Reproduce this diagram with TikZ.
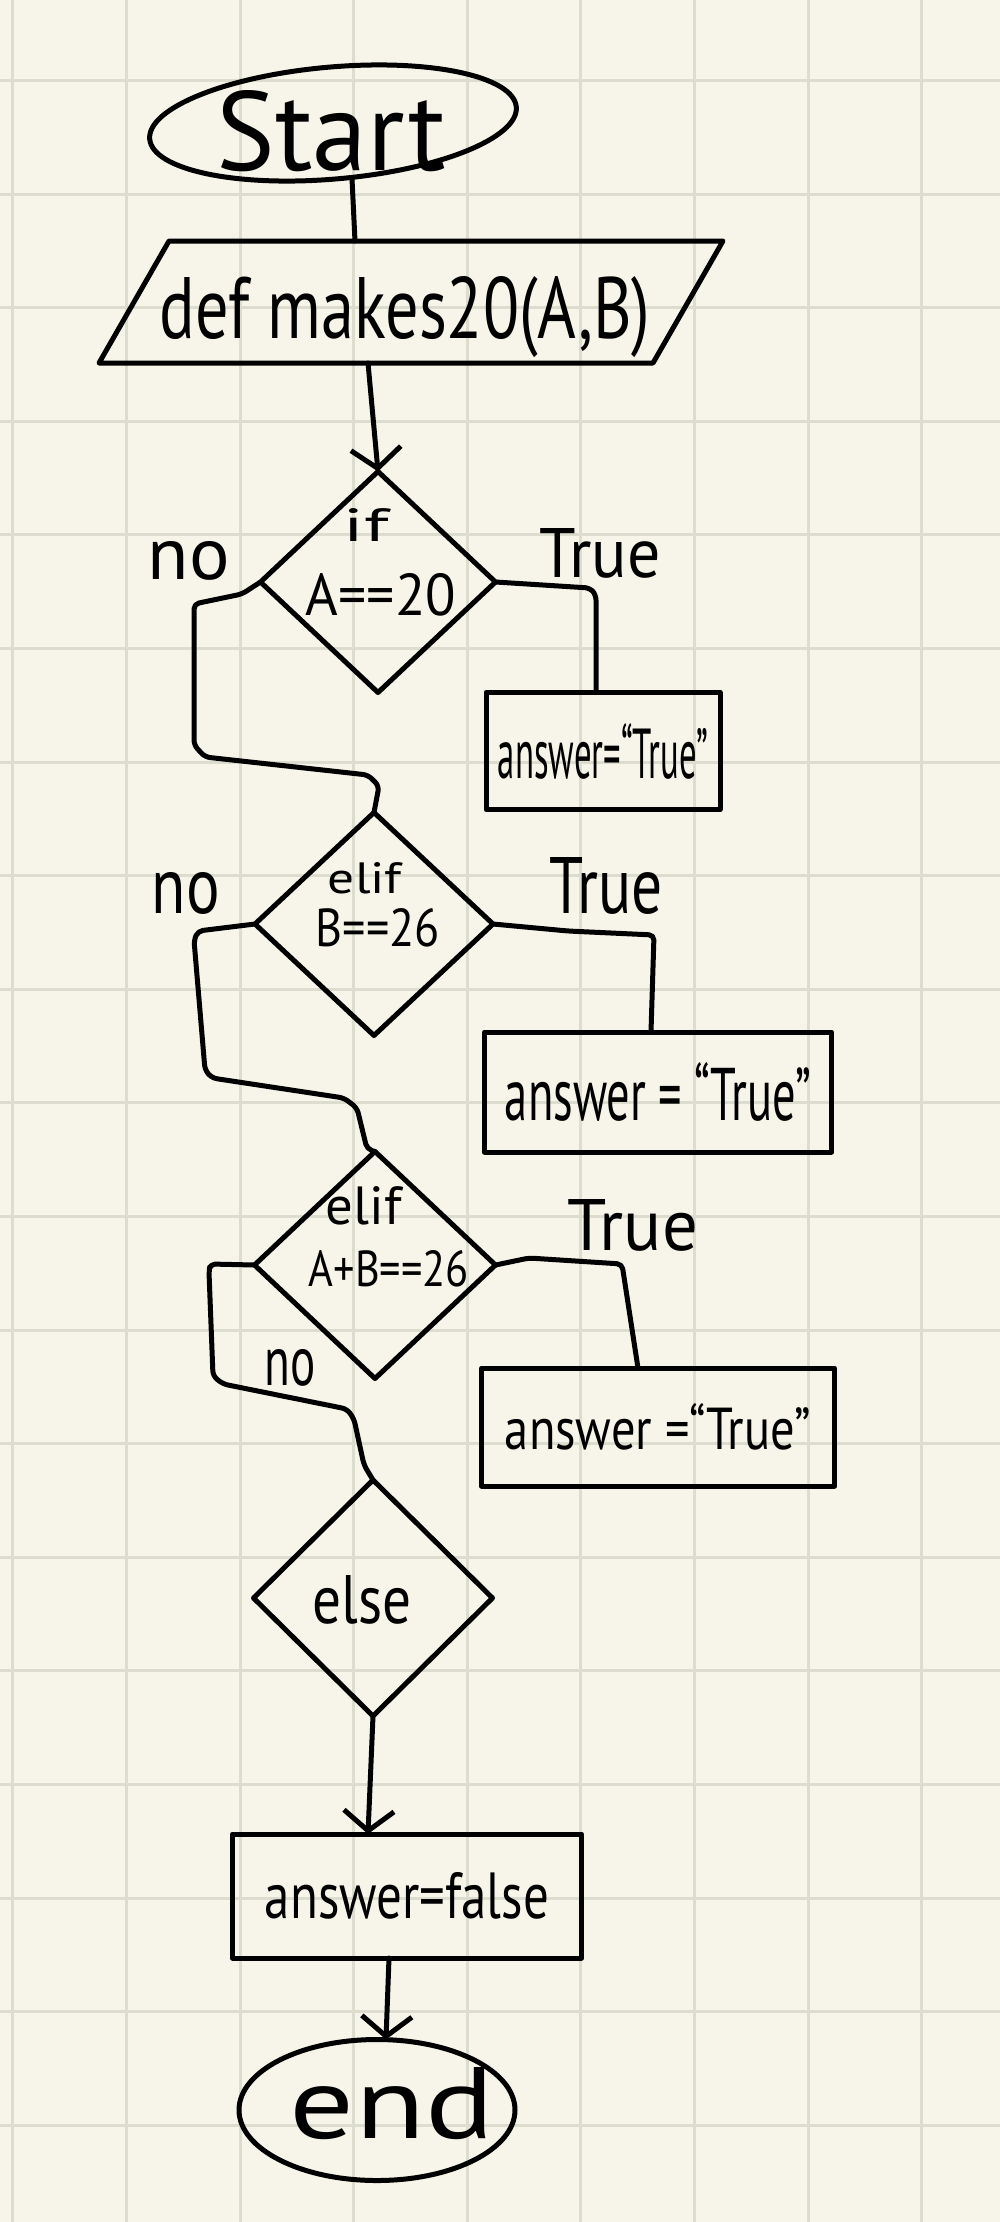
\documentclass[tikz,border=0pt]{standalone}
\usepackage{fontspec}
\setmainfont{PT Sans}
\usepackage{graphicx}
\usetikzlibrary{shapes.geometric,arrows.meta}
\definecolor{paper}{HTML}{F7F5EA}
\definecolor{gridc}{HTML}{DCDCCF}
\newcommand\tx[3]{\resizebox{#1pt}{#2pt}{#3}}
\begin{document}
\begin{tikzpicture}[x=1pt,y=-1pt,
  ink/.style={line width=5pt, line cap=round, line join=round, draw=black},
  shp/.style={ink, inner sep=0pt, outer sep=0pt},
  lbl/.style={inner sep=0pt, outer sep=0pt, text=black},
  conn/.style={ink, rounded corners=5pt},
  arr/.style={-{Straight Barb[length=20pt,width=50pt]}},
  gridline/.style={draw=gridc, line width=3pt}]
\useasboundingbox (0,0) rectangle (1000,2222);
\fill[paper] (0,0) rectangle (1000,2222);
\foreach \i in {0,...,8} \draw[gridline] ({12.8+113.6*\i},0) -- ++(0,2222);
\foreach \j in {0,...,18} \draw[gridline] (0,{80.4+113.6*\j}) -- ++(1000,0);

% shapes
\node[shp, ellipse, rotate=5, minimum width=368pt, minimum height=112pt] (start) at (333,123) {};
\node[lbl] (starttxt) at (331,131) {\tx{229}{80}{Start}};

% input/output parallelogram (node used for anchoring, outline drawn from its corners)
\node[inner sep=0pt, outer sep=0pt, minimum width=554pt, minimum height=122pt] (par) at (411,302) {};
\draw[ink] ([xshift=-35pt]par.south west) -- ([xshift=35pt]par.north west) -- ([xshift=35pt]par.north east) -- ([xshift=-35pt]par.south east) -- cycle;
\node[lbl] (partxt) at (405,317) {\tx{491}{62}{def makes20(A,B)}};

\node[shp, diamond, minimum width=235pt, minimum height=221pt] (d1) at (378,582) {};
\node[lbl] (d1a) at (366,525) {\tx{45}{33}{if}};
\node[lbl] (d1b) at (381,595) {\tx{150}{42}{A==20}};

\node[shp, rectangle, minimum width=234pt, minimum height=117pt] (b1) at (603,751) {\tx{210}{55}{answer=“True”}};

\node[shp, diamond, minimum width=238pt, minimum height=223pt] (d2) at (374,924) {};
\node[lbl] (d2a) at (365,878) {\tx{74}{31}{elif}};
\node[lbl] (d2b) at (378,928) {\tx{124}{38}{B==26}};

\node[shp, rectangle, minimum width=347pt, minimum height=120pt] (b2) at (658,1092) {\tx{306}{58}{answer = “True”}};

\node[shp, diamond, minimum width=241pt, minimum height=227pt] (d3) at (375,1265) {};
\node[lbl] (d3a) at (364,1206) {\tx{76}{38}{elif}};
\node[lbl] (d3b) at (389,1269) {\tx{160}{36}{A+B==26}};

\node[shp, rectangle, minimum width=353pt, minimum height=118pt] (b3) at (658,1427) {\tx{306}{46}{answer =“True”}};

\node[shp, diamond, minimum width=239pt, minimum height=236pt] (d4) at (373,1598) {};
\node[lbl] (d4a) at (362,1600) {\tx{99}{48}{else}};

\node[shp, rectangle, minimum width=349pt, minimum height=124pt] (b4) at (407,1896) {\tx{284}{46}{answer=false}};

\node[shp, ellipse, minimum width=276pt, minimum height=141pt] (end) at (377,2110) {};
\node[lbl] (endtxt) at (392,2104) {\tx{204}{71}{end}};

% branch labels
\node[lbl] (no1) at (189,561) {\tx{82}{38}{no}};
\node[lbl] (no2) at (186,893) {\tx{68}{41}{no}};
\node[lbl] (no3) at (290,1368) {\tx{51}{36}{no}};
\node[lbl] (t1) at (600,553) {\tx{121}{49}{True}};
\node[lbl] (t2) at (606,886) {\tx{113}{56}{True}};
\node[lbl] (t3) at (633,1225) {\tx{130}{51}{True}};

% connectors
\draw[conn] (352,0 |- start.south) -- (355,0 |- par.north);
\draw[conn, arr] (368,0 |- par.south) -- (d1.north);
\draw[conn] (d1.west) -- (242,594) -- (194,604) -- (194,745) -- (205,757) -- (368,775) -- (379,786) -- (d2.north);
\draw[conn] (d1.east) -- (590,588) -- (596,595) -- (596,0 |- b1.north);
\draw[conn] (d2.west) -- (198,931) -- (194,940) -- (205,1070) -- (212,1078) -- (344,1098) -- (357,1108) -- (367,1149) -- (d3.north);
\draw[conn] (d2.east) -- (568,931) -- (654,935) -- (651,0 |- b2.north);
\draw[conn] (d3.west) -- (210,1264) -- (209,1272) -- (213,1376) -- (223,1384) -- (347,1409) -- (354,1419) -- (364,1465) -- (d4.north);
\draw[conn] (d3.east) -- (529,1258) -- (622,1264) -- (638,0 |- b3.north);
\draw[conn, arr] (d4.south) -- (368,0 |- b4.north);
\draw[conn, arr] (389,0 |- b4.south) -- (386,0 |- end.north);
\end{tikzpicture}
\end{document}
